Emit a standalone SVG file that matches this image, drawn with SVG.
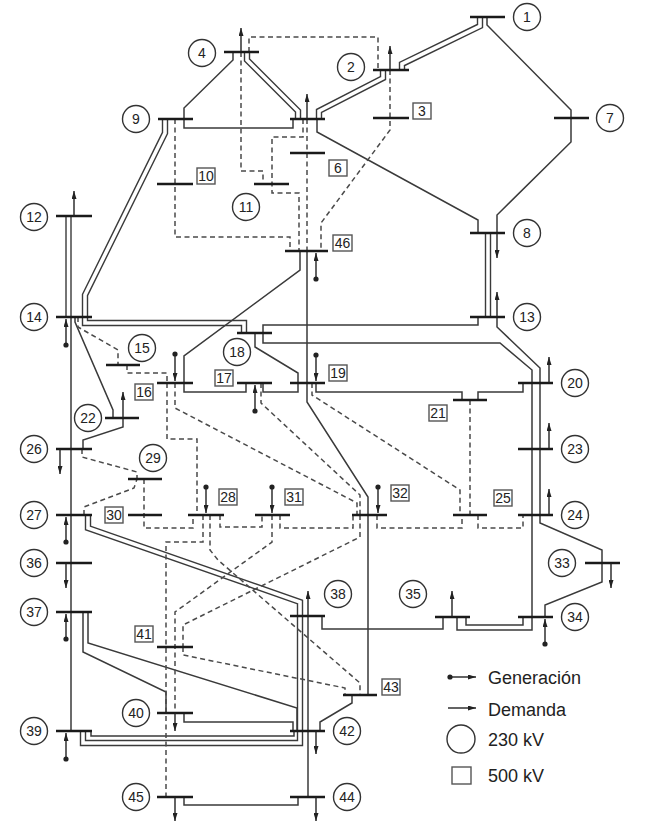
<svg xmlns="http://www.w3.org/2000/svg" width="650" height="838" viewBox="0 0 650 838">
<style>
.bg{fill:#fff}
.dbo{fill:none;stroke:#3a3a3a;stroke-width:6.4}
.dbi{fill:none;stroke:#fff;stroke-width:3.6}
.ln{fill:none;stroke:#3a3a3a;stroke-width:1.5}
.ds{fill:none;stroke:#4a4a4a;stroke-width:1.5;stroke-dasharray:5 3.5}
.bus{stroke:#1a1a1a;stroke-width:2.4}
.dem{stroke:#222;stroke-width:1.4;marker-end:url(#ah)}
.gen{stroke:#222;stroke-width:1.4;marker-end:url(#ah);marker-start:url(#dot)}
.c{fill:#fff;stroke:#333;stroke-width:1.4}
.s{fill:#fff;stroke:#555;stroke-width:1.4}
text{font-family:"Liberation Sans",Arial,sans-serif;font-size:14px;fill:#222;text-anchor:middle}
.lg{font-size:18px;text-anchor:start}
</style>
<defs>
<marker id="ah" markerUnits="userSpaceOnUse" markerWidth="8" markerHeight="5" viewBox="0 0 8 5" refX="8" refY="2.5" orient="auto"><path d="M0,0 L8,2.5 L0,5z" fill="#222"/></marker>
<marker id="dot" markerUnits="userSpaceOnUse" markerWidth="6" markerHeight="6" viewBox="0 0 6 6" refX="3" refY="3"><circle cx="3" cy="3" r="2.6" fill="#222"/></marker>
</defs>
<rect class="bg" x="0" y="0" width="650" height="838"/>
<g id="connectors">
<g id="double-lines">
<path class="dbo" d="M480,17 V26 L402,64 V70"/>
<path class="dbo" d="M383,70 V78 L319,111 V119"/>
<path class="dbo" d="M247,52 V60 L298,111 V119"/>
<path class="dbo" d="M165,119 V133 L85,295 V323 H244 V333"/>
<path class="dbo" d="M488,233 V317"/>
<path class="dbo" d="M68.5,216 V317"/>
<path class="dbo" d="M88,515 V528 L300,602 V743 H83 V731"/>
<path class="dbi" d="M480,17 V26 L402,64 V70"/>
<path class="dbi" d="M383,70 V78 L319,111 V119"/>
<path class="dbi" d="M247,52 V60 L298,111 V119"/>
<path class="dbi" d="M165,119 V133 L85,295 V323 H244 V333"/>
<path class="dbi" d="M488,233 V317"/>
<path class="dbi" d="M68.5,216 V317"/>
<path class="dbi" d="M88,515 V528 L300,602 V743 H83 V731"/>
</g>
<g id="lines">
<path class="ln" d="M487,17 V25 L571,110 V118"/>
<path class="ln" d="M571,118 V142 L497,215 V233"/>
<path class="ln" d="M317,119 V132 L478,220 V233"/>
<path class="ln" d="M233,52 V60 L184,108 V119"/>
<path class="ln" d="M184,119 V128 H293 V119"/>
<path class="ln" d="M300,251 V270 L184,356 V383"/>
<path class="ln" d="M184,383 V392 H246 V383"/>
<path class="ln" d="M263,383 V392 H298 V373 L255,347 V333"/>
<path class="ln" d="M307,251 V402 L368,497 V695"/>
<path class="ln" d="M263,333 V325 H478 V317"/>
<path class="ln" d="M263,333 V343 H500 L532,370 V630 H457 V617"/>
<path class="ln" d="M497,317 V327 L540,368 V523 L602,550 V582 L545,605 V617"/>
<path class="ln" d="M316,383 V392 H462 V400"/>
<path class="ln" d="M523,383 V392 H478 V400"/>
<path class="ln" d="M71,317 V731"/>
<path class="ln" d="M75,317 V322 L113,410 V418"/>
<path class="ln" d="M123,418 V427 L83,440 V449"/>
<path class="ln" d="M83,612 V652 L166,692 V713"/>
<path class="ln" d="M88,612 V643 L297,708 V731"/>
<path class="ln" d="M184,713 V722 H293 V731"/>
<path class="ln" d="M91,731 V736 H294 V731"/>
<path class="ln" d="M308,616 V797"/>
<path class="ln" d="M184,797 V805 H298 V797"/>
<path class="ln" d="M352,695 V703 L320,722 V731"/>
<path class="ln" d="M322,616 V629 H443 V617"/>
<path class="ln" d="M523,617 V625 H466 V617"/>
</g>
<g id="dashed-lines">
<path class="ds" d="M249,52 V37 H378 V70"/>
<path class="ds" d="M390,70 V130 L321,223 V251"/>
<path class="ds" d="M241,52 V171 H263 V184"/>
<path class="ds" d="M303,119 V137 H272 V193 H299 V251"/>
<path class="ds" d="M307,119 V251"/>
<path class="ds" d="M175,119 V237 H290 V251"/>
<path class="ds" d="M78,317 V327 L118,350 V365"/>
<path class="ds" d="M127,365 V373 H167 V383"/>
<path class="ds" d="M167,383 V439 H197 V515"/>
<path class="ds" d="M175,383 V408 L357,503 V515"/>
<path class="ds" d="M261,383 V403 L360,495 V515"/>
<path class="ds" d="M312,383 V395 L460,490 V515"/>
<path class="ds" d="M470,400 V515"/>
<path class="ds" d="M478,515 V528 H523 V515"/>
<path class="ds" d="M377,515 V528 H462 V515"/>
<path class="ds" d="M280,515 V528 H353 V515"/>
<path class="ds" d="M220,515 V527 H262 V515"/>
<path class="ds" d="M144,479 V528 H193 V515"/>
<path class="ds" d="M82,449 V457 L137,472 V479"/>
<path class="ds" d="M84,515 V507 L134,488 L137,479"/>
<path class="ds" d="M203,515 V542 H166 V797"/>
<path class="ds" d="M210,515 V550 L218,560 L360,683 V695"/>
<path class="ds" d="M272,515 V542 L175,612 V713"/>
<path class="ds" d="M360,515 V537 L183,625 V647"/>
<path class="ds" d="M183,647 V655 L345,688 V695"/>
</g>
</g>
<g id="nodes">
<g id="bus1"><line class="bus" x1="470" y1="17" x2="505" y2="17"/><circle class="c" cx="527" cy="17" r="13.5"/><text x="527" y="22">1</text></g>
<g id="bus2"><line class="bus" x1="373" y1="70" x2="409" y2="70"/><line class="dem" x1="390" y1="70" x2="390" y2="46"/><circle class="c" cx="351" cy="67" r="13.5"/><text x="351" y="72">2</text></g>
<g id="bus3"><line class="bus" x1="373" y1="118" x2="409" y2="118"/><rect class="s" x="413" y="103" width="18" height="16"/><text x="422" y="116">3</text></g>
<g id="bus4"><line class="bus" x1="224" y1="52" x2="259" y2="52"/><line class="dem" x1="241" y1="52" x2="241" y2="28"/><circle class="c" cx="202" cy="53" r="13.5"/><text x="202" y="58">4</text></g>
<g id="bus5"><line class="bus" x1="290" y1="119" x2="325" y2="119"/><line class="dem" x1="307" y1="119" x2="307" y2="94"/></g>
<g id="bus6"><line class="bus" x1="290" y1="153" x2="325" y2="153"/><rect class="s" x="329" y="160" width="18" height="16"/><text x="338" y="173">6</text></g>
<g id="bus7"><line class="bus" x1="554" y1="118" x2="589" y2="118"/><circle class="c" cx="610" cy="118" r="13.5"/><text x="610" y="123">7</text></g>
<g id="bus8"><line class="bus" x1="470" y1="233" x2="505" y2="233"/><line class="dem" x1="497" y1="233" x2="497" y2="258"/><circle class="c" cx="527" cy="233" r="13.5"/><text x="527" y="238">8</text></g>
<g id="bus9"><line class="bus" x1="158" y1="119" x2="193" y2="119"/><circle class="c" cx="136" cy="119" r="13.5"/><text x="136" y="124">9</text></g>
<g id="bus10"><line class="bus" x1="157" y1="184" x2="193" y2="184"/><rect class="s" x="197" y="168" width="18" height="16"/><text x="206" y="181">10</text></g>
<g id="bus11"><line class="bus" x1="254" y1="184" x2="289" y2="184"/><circle class="c" cx="246" cy="207" r="13.5"/><text x="246" y="212">11</text></g>
<g id="bus12"><line class="bus" x1="56" y1="216" x2="92" y2="216"/><line class="dem" x1="74" y1="216" x2="74" y2="191"/><circle class="c" cx="34" cy="217" r="13.5"/><text x="34" y="222">12</text></g>
<g id="bus13"><line class="bus" x1="470" y1="317" x2="505" y2="317"/><line class="dem" x1="497" y1="317" x2="497" y2="292"/><circle class="c" cx="527" cy="317" r="13.5"/><text x="527" y="322">13</text></g>
<g id="bus14"><line class="bus" x1="56" y1="317" x2="92" y2="317"/><line class="gen" x1="66" y1="345" x2="66" y2="319"/><circle class="c" cx="34" cy="317" r="13.5"/><text x="34" y="322">14</text></g>
<g id="bus15"><line class="bus" x1="106" y1="365" x2="140" y2="365"/><circle class="c" cx="142" cy="348" r="13.5"/><text x="142" y="353">15</text></g>
<g id="bus16"><line class="bus" x1="157" y1="383" x2="193" y2="383"/><line class="gen" x1="175" y1="354" x2="175" y2="381"/><rect class="s" x="135" y="384" width="18" height="16"/><text x="144" y="397">16</text></g>
<g id="bus17"><line class="bus" x1="237" y1="383" x2="272" y2="383"/><line class="gen" x1="255" y1="411" x2="255" y2="385"/><rect class="s" x="215" y="370" width="18" height="16"/><text x="224" y="383">17</text></g>
<g id="bus18"><line class="bus" x1="237" y1="333" x2="272" y2="333"/><circle class="c" cx="237" cy="352" r="13.5"/><text x="237" y="357">18</text></g>
<g id="bus19"><line class="bus" x1="290" y1="383" x2="325" y2="383"/><line class="gen" x1="316" y1="355" x2="316" y2="381"/><rect class="s" x="329" y="365" width="18" height="16"/><text x="338" y="378">19</text></g>
<g id="bus20"><line class="bus" x1="518" y1="383" x2="553" y2="383"/><line class="dem" x1="549" y1="383" x2="549" y2="357"/><circle class="c" cx="575" cy="383" r="13.5"/><text x="575" y="388">20</text></g>
<g id="bus21"><line class="bus" x1="453" y1="400" x2="487" y2="400"/><rect class="s" x="429" y="405" width="18" height="16"/><text x="438" y="418">21</text></g>
<g id="bus22"><line class="bus" x1="105" y1="418" x2="139" y2="418"/><line class="dem" x1="123" y1="418" x2="123" y2="392"/><circle class="c" cx="88" cy="418" r="13.5"/><text x="88" y="423">22</text></g>
<g id="bus23"><line class="bus" x1="518" y1="449" x2="553" y2="449"/><line class="dem" x1="549" y1="449" x2="549" y2="423"/><circle class="c" cx="575" cy="449" r="13.5"/><text x="575" y="454">23</text></g>
<g id="bus24"><line class="bus" x1="518" y1="515" x2="553" y2="515"/><line class="dem" x1="549" y1="515" x2="549" y2="489"/><circle class="c" cx="575" cy="515" r="13.5"/><text x="575" y="520">24</text></g>
<g id="bus25"><line class="bus" x1="453" y1="515" x2="487" y2="515"/><rect class="s" x="494" y="490" width="18" height="16"/><text x="503" y="503">25</text></g>
<g id="bus26"><line class="bus" x1="56" y1="449" x2="92" y2="449"/><line class="dem" x1="60" y1="449" x2="60" y2="474"/><circle class="c" cx="34" cy="449" r="13.5"/><text x="34" y="454">26</text></g>
<g id="bus27"><line class="bus" x1="56" y1="515" x2="92" y2="515"/><line class="gen" x1="66" y1="542" x2="66" y2="517"/><circle class="c" cx="34" cy="515" r="13.5"/><text x="34" y="520">27</text></g>
<g id="bus28"><line class="bus" x1="188" y1="515" x2="224" y2="515"/><line class="gen" x1="206" y1="487" x2="206" y2="513"/><rect class="s" x="219" y="489" width="18" height="16"/><text x="228" y="502">28</text></g>
<g id="bus29"><line class="bus" x1="128" y1="479" x2="162" y2="479"/><circle class="c" cx="153" cy="458" r="13.5"/><text x="153" y="463">29</text></g>
<g id="bus30"><line class="bus" x1="128" y1="515" x2="162" y2="515"/><rect class="s" x="105" y="507" width="18" height="16"/><text x="114" y="520">30</text></g>
<g id="bus31"><line class="bus" x1="255" y1="515" x2="290" y2="515"/><line class="gen" x1="272" y1="487" x2="272" y2="513"/><rect class="s" x="285" y="489" width="18" height="16"/><text x="294" y="502">31</text></g>
<g id="bus32"><line class="bus" x1="352" y1="515" x2="387" y2="515"/><line class="gen" x1="378" y1="487" x2="378" y2="513"/><rect class="s" x="391" y="485" width="18" height="16"/><text x="400" y="498">32</text></g>
<g id="bus33"><line class="bus" x1="585" y1="563" x2="620" y2="563"/><line class="dem" x1="611" y1="563" x2="611" y2="588"/><circle class="c" cx="562" cy="563" r="13.5"/><text x="562" y="568">33</text></g>
<g id="bus34"><line class="bus" x1="518" y1="617" x2="553" y2="617"/><line class="gen" x1="545" y1="644" x2="545" y2="619"/><circle class="c" cx="575" cy="617" r="13.5"/><text x="575" y="622">34</text></g>
<g id="bus35"><line class="bus" x1="435" y1="617" x2="470" y2="617"/><line class="dem" x1="452" y1="617" x2="452" y2="591"/><circle class="c" cx="413" cy="594" r="13.5"/><text x="413" y="599">35</text></g>
<g id="bus36"><line class="bus" x1="56" y1="563" x2="92" y2="563"/><line class="dem" x1="66" y1="563" x2="66" y2="588"/><circle class="c" cx="34" cy="563" r="13.5"/><text x="34" y="568">36</text></g>
<g id="bus37"><line class="bus" x1="56" y1="612" x2="92" y2="612"/><line class="gen" x1="66" y1="639" x2="66" y2="614"/><circle class="c" cx="34" cy="612" r="13.5"/><text x="34" y="617">37</text></g>
<g id="bus38"><line class="bus" x1="290" y1="616" x2="325" y2="616"/><line class="dem" x1="308" y1="616" x2="308" y2="591"/><circle class="c" cx="338" cy="594" r="13.5"/><text x="338" y="599">38</text></g>
<g id="bus39"><line class="bus" x1="56" y1="731" x2="92" y2="731"/><line class="gen" x1="66" y1="759" x2="66" y2="733"/><circle class="c" cx="34" cy="731" r="13.5"/><text x="34" y="736">39</text></g>
<g id="bus40"><line class="bus" x1="157" y1="713" x2="193" y2="713"/><line class="dem" x1="175" y1="713" x2="175" y2="731"/><circle class="c" cx="136" cy="713" r="13.5"/><text x="136" y="718">40</text></g>
<g id="bus41"><line class="bus" x1="157" y1="647" x2="193" y2="647"/><rect class="s" x="135" y="626" width="18" height="16"/><text x="144" y="639">41</text></g>
<g id="bus42"><line class="bus" x1="290" y1="731" x2="325" y2="731"/><line class="dem" x1="316" y1="731" x2="316" y2="754"/><circle class="c" cx="347" cy="731" r="13.5"/><text x="347" y="736">42</text></g>
<g id="bus43"><line class="bus" x1="343" y1="695" x2="377" y2="695"/><rect class="s" x="382" y="679" width="18" height="16"/><text x="391" y="692">43</text></g>
<g id="bus44"><line class="bus" x1="290" y1="797" x2="325" y2="797"/><line class="dem" x1="316" y1="797" x2="316" y2="821"/><circle class="c" cx="347" cy="797" r="13.5"/><text x="347" y="802">44</text></g>
<g id="bus45"><line class="bus" x1="157" y1="797" x2="193" y2="797"/><line class="dem" x1="175" y1="797" x2="175" y2="821"/><circle class="c" cx="136" cy="797" r="13.5"/><text x="136" y="802">45</text></g>
<g id="bus46"><line class="bus" x1="285" y1="251" x2="328" y2="251"/><line class="gen" x1="316" y1="279" x2="316" y2="253"/><rect class="s" x="333" y="235" width="19" height="16"/><text x="342.5" y="248">46</text></g>
</g>
<g id="legend">
<line class="gen" x1="450" y1="677" x2="476" y2="677"/>
<text class="lg" x="488" y="684">Generación</text>
<line class="dem" x1="448" y1="708" x2="476" y2="708"/>
<text class="lg" x="488" y="716">Demanda</text>
<circle class="c" cx="461" cy="739" r="14"/>
<text class="lg" x="488" y="746">230 kV</text>
<rect class="s" x="452" y="767" width="19" height="17"/>
<text class="lg" x="488" y="782">500 kV</text>
</g>
</svg>
